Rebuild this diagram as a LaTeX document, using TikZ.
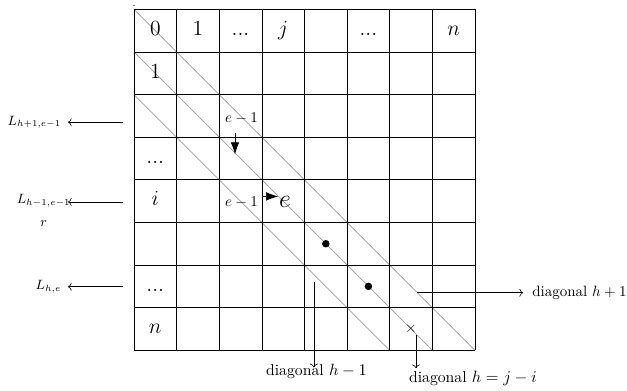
\documentclass[tikz,border=0pt]{standalone}
\usepackage{amsmath}
\usetikzlibrary{arrows.meta, positioning}
\definecolor{diaggray}{gray}{0.62}
\tikzset{
  celltext/.style={font=\Large, text height=1.5ex, text depth=0pt},
  annot/.style={font=\normalsize},
  sidelabel/.style={font=\small},
  diaglabel/.style={font=\fontsize{10.5pt}{12pt}\selectfont},
  pointer/.style={->},
  moveto/.style={-{Latex[length=2.8mm,width=2mm]}},
  dotmark/.style={circle,fill=black,inner sep=0pt,minimum size=5pt},
}
\begin{document}
\begin{tikzpicture}
\useasboundingbox (-3.143,-0.938) rectangle (11.566,8.218);
% diagonals
\draw[diaggray,line width=0.5pt] (0,8)--(8,0);
\draw[diaggray,line width=0.5pt] (0,7)--(7,0);
\draw[diaggray,line width=0.5pt] (0,6)--(6,0);
% table
\draw (0,0) grid (8,8);
\node[font=\scriptsize,inner sep=0pt] (tick) at (0,8.08) {.};
% first row
\node[celltext] (c00) at (0.5,7.5) {$0$};
\node[celltext] (c01) at (1.5,7.5) {$1$};
\node[celltext] (c02) at (2.5,7.5) {...};
\node[celltext] (c03) at (3.5,7.5) {$j$};
\node[celltext] (c05) at (5.5,7.5) {...};
\node[celltext] (c07) at (7.5,7.5) {$n$};
% first column
\node[celltext] (c10) at (0.5,6.5) {$1$};
\node[celltext] (c30) at (0.5,4.5) {...};
\node[celltext] (c40) at (0.5,3.5) {$i$};
\node[celltext] (c60) at (0.5,1.5) {...};
\node[celltext] (c70) at (0.5,0.5) {$n$};
% left side
\coordinate (la1) at (-0.26,5.35);
\coordinate (lb1) at (-1.55,5.35);
\draw[pointer] (la1)--(lb1);
\node[sidelabel,left=1pt of lb1] (lab1) {$L_{h+1,e-1}$};
\coordinate (la2) at (-0.26,3.48);
\coordinate (lb2) at (-1.55,3.48);
\draw[pointer] (la2)--(lb2);
\node[sidelabel,align=center] (lab2) at (-2.12,3.28) {$L_{h-1,e-1}$\\[4pt]$r$};
\coordinate (la3) at (-0.26,1.49);
\coordinate (lb3) at (-1.55,1.49);
\draw[pointer] (la3)--(lb3);
\node[sidelabel,left=1pt of lb3] (lab3) {$L_{h,e}$};
% inside the table
\node[annot] (eup) at (2.52,5.44) {$e-1$};
\coordinate (du1) at (2.37,5.09);
\coordinate (du2) at (2.37,4.6);
\draw[moveto] (du1)--(du2);
\node[annot] (eleft) at (2.52,3.47) {$e-1$};
\node[font=\LARGE] (ecur) at (3.54,3.48) {$e$};
\coordinate (dr1) at (3.03,3.61);
\coordinate (dr2) at (3.38,3.61);
\draw[moveto] (dr1)--(dr2);
\node[dotmark] (p1) at (4.5,2.5) {};
\node[dotmark] (p2) at (5.5,1.5) {};
\node (xmark) at (6.5,0.5) {$\times$};
% diagonal labels
\coordinate (hm1) at (4.22,1.6);
\coordinate (hm2) at (4.22,-0.4);
\draw[pointer] (hm1)--(hm2);
\node[diaglabel] (diagm) at (4.28,-0.49) {diagonal $h-1$};
\coordinate (hz1) at (6.615,0.35);
\coordinate (hz2) at (6.615,-0.42);
\draw[pointer] (hz1)--(hz2);
\node[diaglabel] (diagz) at (7.95,-0.66) {diagonal $h=j-i$};
\coordinate (hp1) at (6.63,1.35);
\coordinate (hp2) at (9.13,1.35);
\draw[pointer] (hp1)--(hp2);
\node[anchor=west] (diagp) at (9.22,1.35) {diagonal $h+1$};
\end{tikzpicture}
\end{document}
